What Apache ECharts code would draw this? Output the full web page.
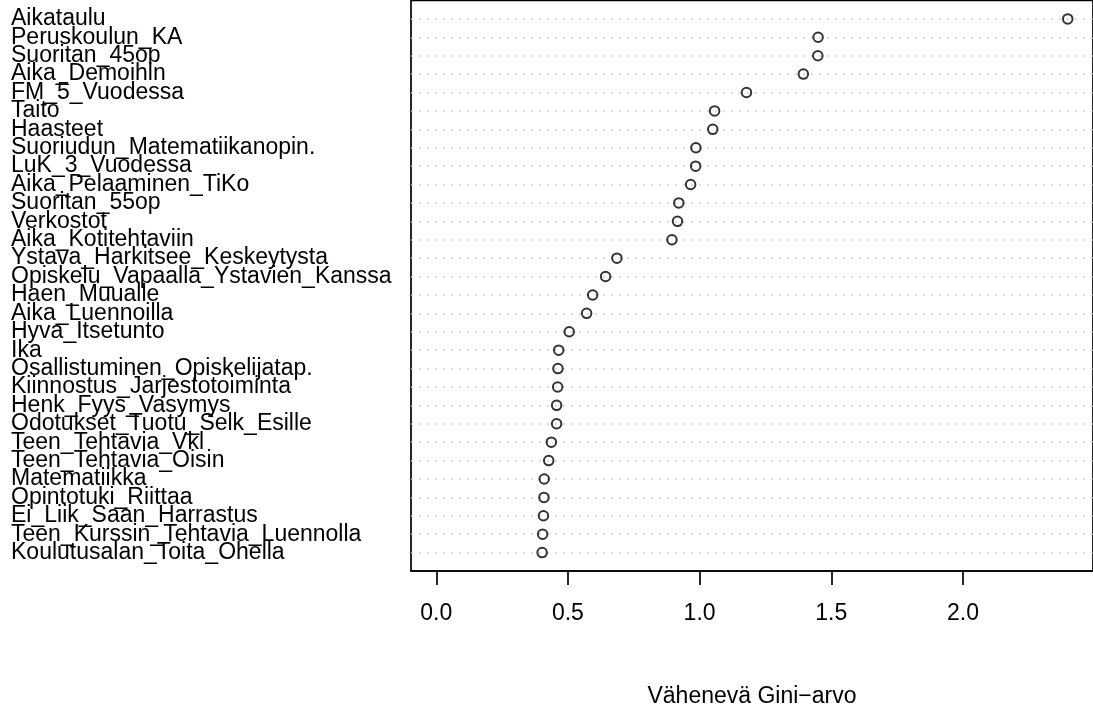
<!DOCTYPE html>
<html>
<head>
<meta charset="utf-8">
<script src="https://cdn.jsdelivr.net/npm/echarts@6/dist/echarts.min.js"></script>
<style>
html,body{margin:0;padding:0;background:#fff;}
#chart{width:1093px;height:713px;}
</style>
</head>
<body>
<div id="chart"></div>
<script>
// Variables, top to bottom as in the reference
const variables = [
  'Aikataulu','Peruskoulun_KA','Suoritan_45op','Aika_Demoihin','FM_5_Vuodessa',
  'Taito','Haasteet','Suoriudun_Matematiikanopin.','LuK_3_Vuodessa','Aika_Pelaaminen_TiKo',
  'Suoritan_55op','Verkostot','Aika_Kotitehtaviin','Ystava_Harkitsee_Keskeytysta','Opiskelu_Vapaalla_Ystavien_Kanssa',
  'Haen_Muualle','Aika_Luennoilla','Hyva_Itsetunto','Ika','Osallistuminen_Opiskelijatap.',
  'Kiinnostus_Jarjestotoiminta','Henk_Fyys_Vasymys','Odotukset_Tuotu_Selk_Esille','Teen_Tehtavia_Vkl','Teen_Tehtavia_Oisin',
  'Matematiikka','Opintotuki_Riittaa','Ei_Liik_Saan_Harrastus','Teen_Kurssin_Tehtavia_Luennolla','Koulutusalan_Toita_Ohella'
];
// Mean decrease Gini, same order
const giniValues = [
  2.398, 1.450, 1.449, 1.394, 1.178,
  1.057, 1.050, 0.986, 0.985, 0.966,
  0.921, 0.916, 0.895, 0.686, 0.643,
  0.594, 0.571, 0.505, 0.465, 0.462,
  0.461, 0.457, 0.457, 0.437, 0.427,
  0.410, 0.409, 0.407, 0.404, 0.402
];
const xTicks = [0, 0.5, 1.0, 1.5, 2.0];
const xTitle = 'Vähenevä Gini−arvo';

// R-style limits: c(0, max) extended by 4%
const maxVal = Math.max(...giniValues);
const xMin = -0.04 * maxVal;
const xMax = 1.04 * maxVal;

// category axis bottom-to-top, padded with one empty slot at each end
const yCats = [''].concat(variables.slice().reverse(), ['']);
const points = giniValues.map((v, i) => [v, variables.length - i]);

const FONT = "'Liberation Sans', Arial, Helvetica, sans-serif";
const chart = echarts.init(document.getElementById('chart'), null, {renderer: 'canvas'});
chart.setOption({
  animation: false,
  backgroundColor: '#fff',
  grid: {
    left: 411, top: 0.5, right: -3, bottom: 135.5,
    show: true, borderColor: '#000', borderWidth: 1.7, backgroundColor: 'transparent',
    containLabel: false
  },
  xAxis: {
    type: 'value', min: xMin, max: xMax,
    name: xTitle, nameLocation: 'middle', nameGap: 114,
    nameTextStyle: {color: '#000', fontSize: 23, fontFamily: FONT},
    axisLine: {show: true, lineStyle: {color: '#000', width: 1.7}},
    axisTick: {show: true, length: 14, inside: false, customValues: xTicks,
               lineStyle: {color: '#000', width: 1.7}},
    axisLabel: {show: true, customValues: xTicks, margin: 31,
                color: '#000', fontSize: 23, fontFamily: FONT,
                formatter: v => Number(v).toFixed(1)},
    splitLine: {show: false}
  },
  yAxis: {
    type: 'category', data: yCats, boundaryGap: false,
    axisLine: {show: false}, axisTick: {show: false},
    axisLabel: {show: true, interval: 0, align: 'left', margin: 400,
                color: '#000', fontSize: 23, fontFamily: FONT},
    splitLine: {show: true, interval: (idx, val) => val !== '',
                lineStyle: {color: '#c8c8c8', width: 1.7, type: [1.7, 6.3]}}
  },
  series: [{
    type: 'scatter',
    data: points,
    symbol: 'circle', symbolSize: 9.5,
    itemStyle: {color: 'rgba(0,0,0,0)', borderColor: '#000', borderWidth: 2},
    emphasis: {disabled: true},
    z: 5
  }]
});
</script>
</body>
</html>
